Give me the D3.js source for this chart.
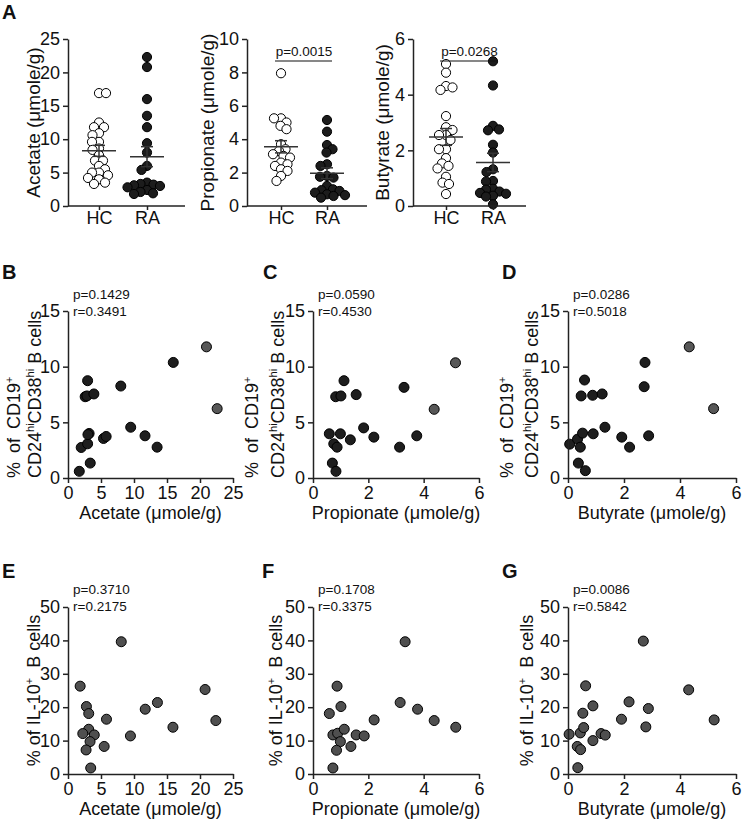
<!DOCTYPE html>
<html><head><meta charset="utf-8">
<script src="https://cdn.jsdelivr.net/npm/d3@7"></script>
<style>body{margin:0;background:#fff} svg{display:block}</style>
</head><body><svg id="chart" width="744" height="819"></svg>
<script>
// ---------------- DATA ----------------
const groups = ["HC", "RA"];
const acetateHC = [16.9,16.9,12.5,11.8,11.8,10.9,10.6,9.6,9.6,8.6,8.4,7.6,6.8,6.8,6.0,5.5,5.0,5.0,4.6,4.2,4.0,3.5,3.3];
const acetateRA = [22.3,20.8,16.0,13.5,11.8,9.4,8.0,6.0,5.4,3.5,3.3,3.2,3.1,3.0,2.8,2.4,2.1,1.9,1.8];
const propionateHC = [7.95,5.25,5.25,5.0,4.8,4.6,3.7,3.4,3.3,3.1,3.0,2.9,2.6,2.5,2.4,2.2,2.1,1.8,1.5];
const propionateRA = [5.15,4.45,3.65,3.4,3.2,2.5,2.4,1.8,1.75,1.7,1.2,1.0,0.95,0.9,0.8,0.7,0.65,0.6,0.5];
const butyrateHC = [5.1,4.79,4.31,4.26,4.17,3.23,2.83,2.73,2.55,2.55,2.37,2.04,2.04,1.72,1.53,1.44,1.35,1.05,0.84,0.79,0.43];
const butyrateRA = [5.2,4.33,2.88,2.75,2.72,2.2,1.92,1.32,1.22,0.9,0.88,0.62,0.59,0.52,0.47,0.44,0.37,0.34,0.06];
const acetateTicks = [0,5,10,15,20,25];
const propionateTicks = [0,2,4,6,8,10];
const butyrateTicks = [0,2,4,6];
const groupPLabels = [null, "p=0.0015", "p=0.0268"];

// B: acetate vs % CD24hiCD38hi
const bAcetate = [1.71,2.97,2.6,2.87,3.92,2.0,2.97,3.2,3.02,3.37,5.38,5.78,8.0,9.5,11.67,13.5,15.95,20.98,22.6];
const bBreg    = [0.6,8.74,7.3,7.37,7.55,2.74,3.07,4.0,3.9,1.34,3.55,3.73,8.26,4.56,3.79,2.77,10.38,11.78,6.23];
const bGroup   = [0,0,0,0,0,0,0,0,0,0,0,0,0,0,0,0,0,1,1];
// C: propionate vs % CD24hiCD38hi
const cPropionate = [0.59,0.99,1.83,2.2,1.35,0.75,0.87,0.70,0.83,0.82,1.01,1.12,1.56,3.13,3.29,3.75,4.38,5.15];
const cBreg       = [3.97,3.97,4.5,3.67,3.43,3.07,2.77,1.34,0.6,7.3,7.37,8.74,7.49,2.77,8.14,3.79,6.17,10.35];
const cGroup      = [0,0,0,0,0,0,0,0,0,0,0,0,0,0,0,0,1,1];
// D: butyrate vs % CD24hiCD38hi
const dButyrate = [0.06,0.34,0.44,0.37,0.62,0.52,0.9,1.32,1.92,2.2,0.47,0.59,0.88,1.22,2.72,2.75,2.88,4.33,5.2];
const dBreg     = [3.04,3.49,2.77,1.34,0.66,4.03,3.97,4.56,3.67,2.77,7.37,8.8,7.43,7.55,8.2,10.38,3.79,11.78,6.23];
const dGroup    = [0,0,0,0,0,0,0,0,0,0,0,0,0,0,0,0,0,1,1];
// E: acetate vs % IL-10+
const eAcetate = [1.84,2.79,3.14,3.14,3.98,2.24,3.34,2.74,3.44,5.48,5.83,8.07,9.46,11.7,13.55,15.9,20.77,22.4];
const eIL10    = [26.3,20.2,18.1,13.4,11.7,12.1,9.7,7.2,1.8,8.25,16.4,39.6,11.4,19.4,21.4,14.0,25.3,16.0];
// F: propionate vs % IL-10+
const fPropionate = [0.72,0.59,0.87,1.01,0.72,0.89,1.13,0.99,0.85,1.37,1.56,1.85,2.21,3.15,3.33,3.78,4.38,5.16];
const fIL10       = [1.8,18.1,26.3,20.2,11.7,12.2,13.4,9.7,7.1,8.25,11.7,11.4,16.2,21.4,39.6,19.4,16.0,14.0];
// G: butyrate vs % IL-10+
const gButyrate = [0.04,0.33,0.45,0.35,0.44,0.56,0.53,0.63,0.89,0.89,1.18,1.33,1.91,2.18,2.69,2.78,2.87,4.31,5.22];
const gIL10     = [11.9,8.25,7.3,1.9,12.3,13.9,18.2,26.4,20.4,10.0,12.1,11.65,16.4,21.6,39.8,14.1,19.6,25.2,16.2];

const scatterP = ["p=0.1429","p=0.0590","p=0.0286","p=0.3710","p=0.1708","p=0.0086"];
const scatterR = ["r=0.3491","r=0.4530","r=0.5018","r=0.2175","r=0.3375","r=0.5842"];
const bregTicks = [0,5,10,15];
const il10Ticks = [0,10,20,30,40,50];

// ---------------- DRAWING ----------------
const FONT = '"Liberation Sans", Arial, Helvetica, sans-serif';
const INK = "#111";
const AX = "#222";
const FS = 18;
const fmt = d3.format("d");
const svg = d3.select("#chart");

function styleAxis(a, fs) {
  a.selectAll(".domain").attr("stroke", AX).attr("stroke-width", 1.5);
  a.selectAll(".tick line").attr("stroke", AX).attr("stroke-width", 1.5);
  a.selectAll(".tick text").attr("font-family", FONT).attr("font-size", fs || FS).attr("fill", INK);
}

function swarm(vals, y, cx, r) {
  const pts = vals.map(v => ({v, y: y(v)})).sort((a, b) => a.y - b.y);
  const placed = [];
  const d = 2 * r * 0.72;
  pts.forEach((p, i) => {
    const sgn = i % 2 === 0 ? 1 : -1;
    for (let k = 0; k < 200; k++) {
      const off = (k % 2 === 0 ? 1 : -1) * sgn * Math.ceil(k / 2) * 0.5;
      const ok = placed.every(q => (q.x - (cx + off)) ** 2 + (q.y - p.y) ** 2 >= d * d);
      if (ok) { p.x = cx + off; break; }
    }
    placed.push(p);
  });
  return placed;
}

function text(g, x, y, str, opts = {}) {
  return g.append("text").attr("x", x).attr("y", y).text(str)
    .attr("font-family", FONT).attr("font-size", opts.size || FS)
    .attr("font-weight", opts.weight || "normal")
    .attr("text-anchor", opts.anchor || "start").attr("fill", INK);
}

// Panel letters
[["A",2,19],["B",2,279],["C",263,279],["D",502,279],["E",2,578],["F",262,578],["G",502,578]]
  .forEach(([t, x, y]) => text(svg, x, y, t, {size: 20, weight: "bold"}));

// ---- Panel A ----
const dotPanels = [
  {name: "Acetate", hc: acetateHC, ra: acetateRA, ticks: acetateTicks, axisX: 68, axisEnd: 185, hcX: 99, raX: 147, titleX: 40, p: groupPLabels[0]},
  {name: "Propionate", hc: propionateHC, ra: propionateRA, ticks: propionateTicks, axisX: 247, axisEnd: 367, hcX: 281, raX: 327, titleX: 214, p: groupPLabels[1]},
  {name: "Butyrate", hc: butyrateHC, ra: butyrateRA, ticks: butyrateTicks, axisX: 413, axisEnd: 526, hcX: 446, raX: 493, titleX: 389, p: groupPLabels[2]}
];
const A_Y0 = 206, A_Y1 = 39, A_R = 4.6;

dotPanels.forEach(cfg => {
  const g = svg.append("g");
  const y = d3.scaleLinear().domain([0, d3.max(cfg.ticks)]).range([A_Y0, A_Y1]);
  const x = d3.scalePoint().domain(groups).range([cfg.hcX, cfg.raX]);
  [cfg.hc, cfg.ra].forEach((vals, i) => {
    const pts = swarm(vals, y, x(groups[i]), A_R);
    g.append("g").selectAll("circle").data(pts).join("circle")
      .attr("cx", d => d.x).attr("cy", d => d.y).attr("r", A_R)
      .attr("fill", i === 0 ? "#fff" : "#1c1c1c")
      .attr("stroke", "#000").attr("stroke-width", 1);
  });
  [cfg.hc, cfg.ra].forEach((vals, i) => {
    const cx = x(groups[i]);
    const m = d3.mean(vals), se = d3.deviation(vals) / Math.sqrt(vals.length);
    const lg = g.append("g").attr("stroke", "#333").attr("stroke-width", 1.5);
    lg.append("line").attr("x1", cx - 17).attr("x2", cx + 17).attr("y1", y(m)).attr("y2", y(m));
    lg.append("line").attr("x1", cx).attr("x2", cx).attr("y1", y(m - se)).attr("y2", y(m + se));
    [m - se, m + se].forEach(v => lg.append("line").attr("x1", cx - 6).attr("x2", cx + 6).attr("y1", y(v)).attr("y2", y(v)));
  });
  const ya = g.append("g").attr("transform", `translate(${cfg.axisX},0)`)
    .call(d3.axisLeft(y).tickValues(cfg.ticks).tickFormat(fmt).tickSize(5).tickPadding(3).tickSizeOuter(0));
  const xa = g.append("g").attr("transform", `translate(0,${A_Y0})`)
    .call(d3.axisBottom(x).tickSize(4).tickPadding(1).tickSizeOuter(0));
  xa.select(".domain").attr("d", `M${cfg.axisX},0H${cfg.axisEnd}`);
  styleAxis(ya); styleAxis(xa);
  g.append("text").attr("transform", `translate(${cfg.titleX},${(A_Y0 + A_Y1) / 2}) rotate(-90)`)
    .attr("text-anchor", "middle").attr("font-family", FONT).attr("font-size", FS + 1).attr("fill", INK)
    .text(`${cfg.name} (μmole/g)`);
  if (cfg.p) {
    text(g, (cfg.hcX + cfg.raX) / 2, 56, cfg.p, {size: 13.5, anchor: "middle"});
    g.append("line").attr("x1", cfg.hcX - 6).attr("x2", cfg.raX + 5).attr("y1", 61).attr("y2", 61)
      .attr("stroke", "#111").attr("stroke-width", 1.2);
  }
});

// ---- Scatter panels ----
const cols = [
  {x0: 68, x1: 233, ticks: [0,5,10,15,20,25], label: "Acetate", t1: 20, t2: 41, tE: 40},
  {x0: 313, x1: 479, ticks: [0,2,4,6], label: "Propionate", t1: 258, t2: 284, tE: 282},
  {x0: 568, x1: 736, ticks: [0,2,4,6], label: "Butyrate", t1: 513, t2: 538, tE: 533}
];
const rows = [
  {y0: 478, y1: 311, ticks: bregTicks, titleY: 519, statY: 299},
  {y0: 774, y1: 607, ticks: il10Ticks, titleY: 815, statY: 594}
];
const scatters = [
  {row: 0, col: 0, xs: bAcetate, ys: bBreg, grp: bGroup},
  {row: 0, col: 1, xs: cPropionate, ys: cBreg, grp: cGroup},
  {row: 0, col: 2, xs: dButyrate, ys: dBreg, grp: dGroup},
  {row: 1, col: 0, xs: eAcetate, ys: eIL10, grp: null},
  {row: 1, col: 1, xs: fPropionate, ys: fIL10, grp: null},
  {row: 1, col: 2, xs: gButyrate, ys: gIL10, grp: null}
];
const S_R = 5;

scatters.forEach((s, i) => {
  const c = cols[s.col], r = rows[s.row];
  const g = svg.append("g");
  const x = d3.scaleLinear().domain([0, d3.max(c.ticks)]).range([c.x0, c.x1]);
  const y = d3.scaleLinear().domain([0, d3.max(r.ticks)]).range([r.y0, r.y1]);
  const pts = s.xs.map((v, k) => ({x: v, y: s.ys[k], g: s.grp ? s.grp[k] : 2}));
  g.append("g").selectAll("circle").data(pts).join("circle")
    .attr("cx", d => x(d.x)).attr("cy", d => y(d.y)).attr("r", S_R)
    .attr("fill", d => d.g === 0 ? "#1e1e1e" : (d.g === 1 ? "#575757" : "#4f4f4f"))
    .attr("stroke", "#000").attr("stroke-width", 1);
  const ya = g.append("g").attr("transform", `translate(${c.x0},0)`)
    .call(d3.axisLeft(y).tickValues(r.ticks).tickFormat(fmt).tickSize(5).tickPadding(3).tickSizeOuter(0));
  const xa = g.append("g").attr("transform", `translate(0,${r.y0})`)
    .call(d3.axisBottom(x).tickValues(c.ticks).tickFormat(fmt).tickSize(5).tickPadding(3).tickSizeOuter(0));
  styleAxis(ya); styleAxis(xa);
  text(g, (c.x0 + c.x1) / 2, r.titleY, `${c.label} (μmole/g)`, {anchor: "middle"});
  text(g, c.x0 + 5, r.statY, scatterP[i], {size: 13.5});
  text(g, c.x0 + 5, r.statY + 17, scatterR[i], {size: 13.5});
  if (s.row === 0) {
    const t1 = g.append("text").attr("transform", `translate(${c.t1},${r.y0}) rotate(-90)`)
      .attr("font-family", FONT).attr("font-size", FS).attr("fill", INK).attr("word-spacing", 4);
    t1.append("tspan").text("% of CD19");
    t1.append("tspan").attr("font-size", 11).attr("dy", -7).text("+");
    const t2 = g.append("text").attr("transform", `translate(${c.t2},${r.y0}) rotate(-90)`)
      .attr("font-family", FONT).attr("font-size", FS).attr("fill", INK);
    t2.append("tspan").text("CD24");
    t2.append("tspan").attr("font-size", 11).attr("dy", -7).text("hi");
    t2.append("tspan").attr("dy", 7).text("CD38");
    t2.append("tspan").attr("font-size", 11).attr("dy", -7).text("hi");
    t2.append("tspan").attr("dy", 7).text(" B cells");
  } else {
    const t = g.append("text").attr("transform", `translate(${c.tE},${(r.y0 + r.y1) / 2}) rotate(-90)`)
      .attr("text-anchor", "middle").attr("font-family", FONT).attr("font-size", FS).attr("fill", INK);
    t.append("tspan").text("% of IL-10");
    t.append("tspan").attr("font-size", 11).attr("dy", -7).text("+");
    t.append("tspan").attr("dy", 7).text("  B cells").attr("xml:space", "preserve");
  }
});
</script></body></html>
